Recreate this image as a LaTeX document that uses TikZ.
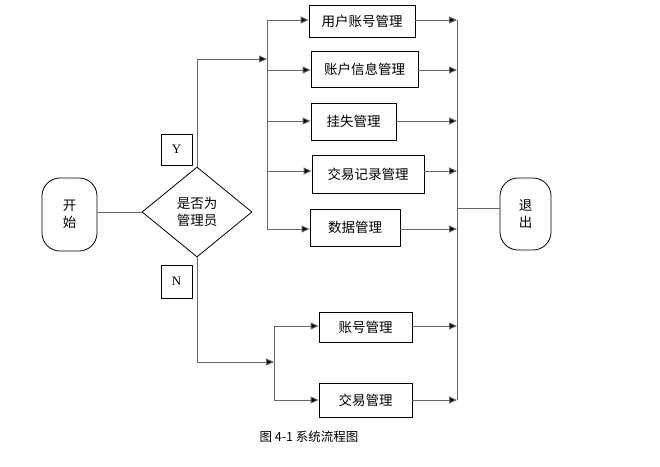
\documentclass[tikz,border=0pt]{standalone}
\usepackage{fontspec}
\setmainfont{Noto Sans CJK SC}
\newfontfamily\yn{Liberation Serif}
\usetikzlibrary{arrows.meta,shapes.geometric}
\begin{document}
\begin{tikzpicture}[x=1pt,y=-1pt,
  box/.style={draw,line width=0.8pt,inner sep=0,font=\fontsize{13.5}{17}\selectfont},
  ln/.style={draw=black!60,line width=1pt},
  ar/.style={ln,-{Triangle[length=8pt,width=7pt,fill=black]}}]
\useasboundingbox (0,0) rectangle (660,466);
% start / exit
\node[box,minimum width=55,minimum height=73,rounded corners=18,align=center] (st) at (69.5,214.5) {开\\始};
\node[box,minimum width=51,minimum height=72,rounded corners=18,align=center] (ex) at (525.5,214) {退\\出};
\node[box,diamond,minimum width=110,minimum height=90,align=center] (d) at (197,212) {是否为\\管理员};
\node[box,minimum width=31,minimum height=31,font=\yn\fontsize{13}{15}\selectfont] (y) at (176.5,149.5) {Y};
\node[box,minimum width=31,minimum height=33,font=\yn\fontsize{13}{15}\selectfont] (n) at (176.5,281.5) {N};
% boxes
\node[box,minimum width=106,minimum height=32] (b1) at (362,21) {用户账号管理};
\node[box,minimum width=107,minimum height=36] (b2) at (364.5,69) {账户信息管理};
\node[box,minimum width=85,minimum height=37] (b3) at (353.5,121.5) {挂失管理};
\node[box,minimum width=112,minimum height=38] (b4) at (368,174) {交易记录管理};
\node[box,minimum width=90,minimum height=37] (b5) at (355,227.5) {数据管理};
\node[box,minimum width=93,minimum height=30] (c1) at (365.5,327) {账号管理};
\node[box,minimum width=93,minimum height=34] (c2) at (365.5,400) {交易管理};
\node[font=\fontsize{12.5}{15}\selectfont] (cap) at (309,437) {图 4-1 系统流程图};
% connectors
\draw[ln] (st.east|-0,212) -- (d.west);
\coordinate (yb) at (267,59);
\draw[ar] (d.north) |- (yb);
\draw[ln] (267,20) -- (267,229);
\foreach \b/\yy in {b1/20,b2/70,b3/121,b4/171,b5/229}{
  \draw[ar] (267,\yy) -- (\b.west|-0,\yy);
  \draw[ar] (\b.east|-0,\yy) -- (457,\yy);}
\coordinate (nb) at (274,362);
\draw[ar] (d.south) |- (nb);
\draw[ln] (274,326) -- (274,400);
\foreach \b/\yy in {c1/326,c2/400}{
  \draw[ar] (274,\yy) -- (\b.west|-0,\yy);
  \draw[ar] (\b.east|-0,\yy) -- (457,\yy);}
\draw[ln] (457,20) -- (457,400);
\draw[ln] (457,208) -- (ex.west|-0,208);
\end{tikzpicture}
\end{document}
